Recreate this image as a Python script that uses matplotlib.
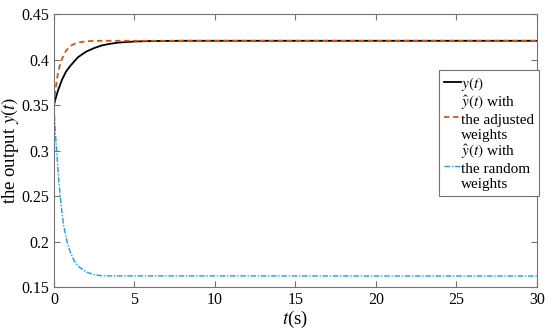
import numpy as np
import matplotlib
matplotlib.use('Agg')
import matplotlib.pyplot as plt

plt.rcParams['font.family'] = ['Liberation Serif', 'DejaVu Serif']
plt.rcParams['mathtext.fontset'] = 'stix'

# values
t_true = [0, 0.1, 0.25, 0.5, 0.75, 1.0, 1.25, 1.5, 2.0, 2.5, 3.0, 3.5, 4.0, 5.0, 6.0, 8.0, 30.0]
y_true = [0.35, 0.357, 0.366, 0.378, 0.387, 0.393, 0.398, 0.403, 0.409, 0.413, 0.4160,
          0.4177, 0.4190, 0.4202, 0.4207, 0.421, 0.421]

t_adj = [0, 0.1, 0.2, 0.3, 0.4, 0.5, 0.75, 1.0, 1.25, 1.5, 2.0, 2.5, 3.0, 30.0]
y_adj = [0.35, 0.367, 0.380, 0.389, 0.396, 0.401, 0.410, 0.415, 0.4175, 0.419, 0.4205,
         0.4209, 0.421, 0.421]

t_rand = [0, 0.1, 0.2, 0.3, 0.4, 0.5, 0.6, 0.8, 1.0, 1.25, 1.5, 2.0, 2.5, 3.0, 30.0]
y_rand = [0.35, 0.318, 0.292, 0.268, 0.248, 0.232, 0.218, 0.201, 0.189, 0.179, 0.173,
          0.1665, 0.1635, 0.1622, 0.162]

fig = plt.figure(figsize=(5.5, 3.36), dpi=100)
ax = fig.add_axes([0.098, 0.146, 0.878, 0.811])

ax.plot(t_true, y_true, color='black', lw=1.3, label='$y(t)$')
ax.plot(t_adj, y_adj, color='#D95319', lw=1.3, ls='--', dashes=(3, 2),
        label='$\\hat{y}(t)$ with\nthe adjusted\nweights')
ax.plot(t_rand, y_rand, color='#1a9cff', lw=1.0, ls='-.', dashes=(4, 1.2, 1, 1.2),
        label='$\\hat{y}(t)$ with\nthe random\nweights')

ax.set_xlim(0, 30)
ax.set_ylim(0.15, 0.45)
ax.set_xticks([0, 5, 10, 15, 20, 25, 30])
ax.set_yticks([0.15, 0.2, 0.25, 0.3, 0.35, 0.4, 0.45])
ax.set_yticklabels(['0.15', '0.2', '0.25', '0.3', '0.35', '0.4', '0.45'])
ax.tick_params(direction='in', top=True, right=True, labelsize=11.5, length=4,
               color='0.45', pad=3.5)
for s in ax.spines.values():
    s.set_color('0.45')
    s.set_linewidth(0.8)

ax.set_xlabel('$t$(s)', fontsize=13.5, va='center')
ax.set_ylabel('the output $y(t)$', fontsize=13.5, va='center')
ax.xaxis.set_label_coords(0.5, -0.118)
ax.yaxis.set_label_coords(-0.09, 0.5)

leg = ax.legend(loc='upper right', bbox_to_anchor=(539 / 550, 1 - 70 / 336),
                bbox_transform=fig.transFigure, fontsize=11, handlelength=1.1,
                handletextpad=0.05, borderpad=0.3, labelspacing=0.05,
                fancybox=False, framealpha=1, borderaxespad=0)
leg.get_frame().set_edgecolor('0.45')
leg.get_frame().set_linewidth(0.8)

fig.savefig('out.png', dpi=100)
